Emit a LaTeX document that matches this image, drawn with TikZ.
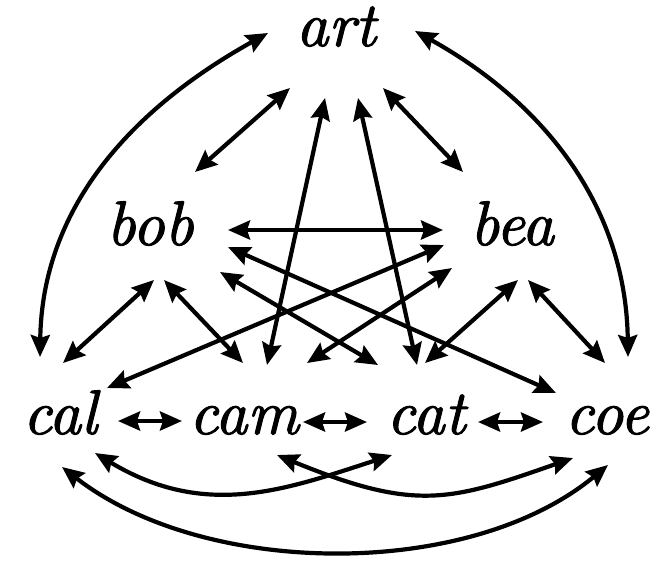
\documentclass[tikz,border=0pt]{standalone}
\usepackage{fontspec}
\newfontfamily\lblfont{lmroman10}[Extension=.otf, UprightFont=*-italic, UprightFeatures={FakeBold=1.6}]
\usetikzlibrary{arrows.meta}
\begin{document}
\begin{tikzpicture}[x=1pt,y=-1pt,
  lbl/.style={font=\lblfont\fontsize{63}{63}\selectfont, inner sep=0pt, anchor=base},
  link/.style={line width=4.2pt,
    {Stealth[length=22pt,width=19pt,inset=3pt]}-{Stealth[length=22pt,width=19pt,inset=3pt]}}
]
\useasboundingbox (0,0) rectangle (663,566);
% names
\node[lbl] (art) at (336,46) {art};
\node[lbl] (bob) at (150,245) {bob};
\node[lbl] (bea) at (512,245) {bea};
\node[lbl] (cal) at (60,434) {cal};
\node[lbl] (cam) at (244,434) {cam};
\node[lbl] (cat) at (426,434) {cat};
\node[lbl] (coe) at (607,434) {coe};
% arrow ends
\coordinate (art-cal) at (268,33);  \coordinate (cal-art) at (40,357);
\coordinate (art-coe) at (415,31);  \coordinate (coe-art) at (628,357);
\coordinate (art-bob) at (290,88);  \coordinate (bob-art) at (195,172);
\coordinate (art-bea) at (383,88);  \coordinate (bea-art) at (463,172);
\coordinate (art-cam) at (325,98);  \coordinate (cam-art) at (267,365);
\coordinate (art-cat) at (358,98);  \coordinate (cat-art) at (417,365);
\coordinate (bob-bea) at (228,230); \coordinate (bea-bob) at (443,230);
\coordinate (bob-coe) at (228,247); \coordinate (coe-bob) at (556,393);
\coordinate (bob-cat) at (220,272); \coordinate (cat-bob) at (378,365);
\coordinate (bob-cal) at (154,280); \coordinate (cal-bob) at (63,363);
\coordinate (bob-cam) at (164,280); \coordinate (cam-bob) at (243,363);
\coordinate (bea-cal) at (444,245); \coordinate (cal-bea) at (107,388);
\coordinate (bea-cam) at (452,268); \coordinate (cam-bea) at (307,363);
\coordinate (bea-cat) at (518,280); \coordinate (cat-bea) at (425,363);
\coordinate (bea-coe) at (528,280); \coordinate (coe-bea) at (605,363);
\coordinate (cal-cam) at (118,421); \coordinate (cam-cal) at (182,421);
\coordinate (cam-cat) at (303,422); \coordinate (cat-cam) at (367,422);
\coordinate (cat-coe) at (478,422); \coordinate (coe-cat) at (543,422);
\coordinate (cal-cat) at (95,453);  \coordinate (cat-cal) at (392,455);
\coordinate (cam-coe) at (277,455); \coordinate (coe-cam) at (573,458);
\coordinate (cal-coe) at (62,467);  \coordinate (coe-cal) at (608,465);
% connectors
\draw[link] (art-cal) .. controls (128,111) and (42,210) .. (cal-art);
\draw[link] (art-coe) .. controls (548,105) and (626,210) .. (coe-art);
\draw[link] (art-bob) -- (bob-art);
\draw[link] (art-bea) -- (bea-art);
\draw[link] (art-cam) -- (cam-art);
\draw[link] (art-cat) -- (cat-art);
\draw[link] (bob-bea) -- (bea-bob);
\draw[link] (bob-coe) -- (coe-bob);
\draw[link] (bob-cat) -- (cat-bob);
\draw[link] (bob-cal) -- (cal-bob);
\draw[link] (bob-cam) -- (cam-bob);
\draw[link] (bea-cal) -- (cal-bea);
\draw[link] (bea-cam) -- (cam-bea);
\draw[link] (bea-cat) -- (cat-bea);
\draw[link] (bea-coe) -- (coe-bea);
\draw[link] (cal-cam) -- (cam-cal);
\draw[link] (cam-cat) -- (cat-cam);
\draw[link] (cat-coe) -- (coe-cat);
\draw[link] (cal-cat) .. controls (206,520) and (287,489) .. (cat-cal);
\draw[link] (cam-coe) .. controls (416,512) and (450,501) .. (coe-cam);
\draw[link] (cal-coe) .. controls (205,578) and (469,580) .. (coe-cal);
\end{tikzpicture}
\end{document}
